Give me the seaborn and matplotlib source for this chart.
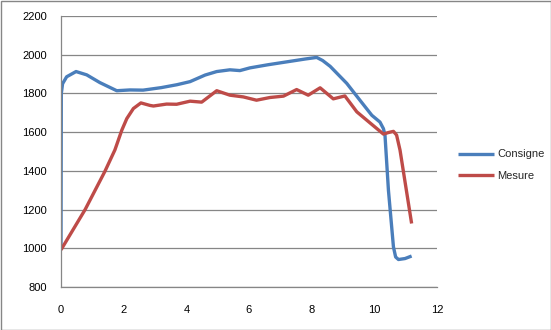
import matplotlib
matplotlib.use("Agg")
import matplotlib.pyplot as plt
import seaborn as sns
from matplotlib.patches import Rectangle

consigne_x = [0, 0.01, 0.05, 0.18, 0.48, 0.82, 1.24, 1.78, 2.2, 2.62, 3.2, 3.7, 4.12, 4.6, 4.97, 5.39, 5.71, 6.03, 6.6, 7.2, 7.8, 8.16, 8.35, 8.59, 9.12, 9.54, 9.92, 10.18, 10.29, 10.34, 10.45, 10.61, 10.68, 10.77, 10.98, 11.19]
consigne_y = [1000, 1800, 1850, 1886, 1913, 1896, 1856, 1814, 1818, 1817, 1830, 1845, 1861, 1895, 1913, 1922, 1918, 1932, 1948, 1963, 1978, 1986, 1970, 1940, 1852, 1765, 1687, 1652, 1618, 1584, 1300, 1007, 955, 942, 947, 960]

mesure_x = [0, 0.77, 1.4, 1.72, 1.94, 2.10, 2.31, 2.55, 2.84, 2.95, 3.37, 3.69, 4.12, 4.49, 4.97, 5.39, 5.82, 6.24, 6.67, 7.10, 7.52, 7.89, 8.27, 8.69, 9.06, 9.44, 9.86, 10.29, 10.45, 10.61, 10.71, 10.82, 11.19]
mesure_y = [992, 1200, 1397, 1508, 1610, 1670, 1722, 1751, 1738, 1735, 1745, 1744, 1760, 1755, 1814, 1791, 1782, 1765, 1779, 1786, 1820, 1791, 1829, 1772, 1787, 1705, 1648, 1590, 1598, 1604, 1585, 1507, 1128]

series_names = ["Consigne", "Mesure"]
colors = ["#4A7EBB", "#BE4B48"]

x_ticks = [0, 2, 4, 6, 8, 10, 12]
y_ticks = [800, 1000, 1200, 1400, 1600, 1800, 2000, 2200]

sns.set_style("white")
plt.rcParams["font.family"] = ["Liberation Sans", "DejaVu Sans"]

fig = plt.figure(figsize=(5.51, 3.30), dpi=100)
ax = fig.add_axes([61/551, 1-287/330, (437-61)/551, (287-16)/330])

for xs, ys, c, n in [(consigne_x, consigne_y, colors[0], series_names[0]),
                     (mesure_x, mesure_y, colors[1], series_names[1])]:
    sns.lineplot(x=xs, y=ys, sort=False, estimator=None, color=c, linewidth=2.4,
                 ax=ax, label=n, solid_joinstyle="round", solid_capstyle="butt")

ax.set_xlim(0, 12)
ax.set_ylim(800, 2200)
ax.set_xticks(x_ticks)
ax.set_yticks(y_ticks)
ax.set_xlabel("")
ax.set_ylabel("")
ax.grid(axis="y", color="#868686", linewidth=0.9)
ax.grid(axis="x", visible=False)
ax.set_axisbelow(True)
for side in ["top", "right"]:
    ax.spines[side].set_visible(False)
for side in ["left", "bottom"]:
    ax.spines[side].set_color("#868686")
    ax.spines[side].set_linewidth(0.9)
ax.tick_params(axis="both", which="both", direction="out", length=4, width=0.9,
               color="#868686", labelsize=8, labelcolor="black")
ax.tick_params(axis="y", pad=6)
ax.tick_params(axis="x", pad=9)

leg = ax.legend(loc="center left", bbox_to_anchor=(448/551, 165/330),
                bbox_transform=fig.transFigure, frameon=False, fontsize=8,
                handlelength=3.2, handletextpad=0.3, labelspacing=1.0)

fig.patches.append(Rectangle((0.5/551, 0.5/330), 1-1/551, 1-1/330, transform=fig.transFigure,
                             fill=False, edgecolor="#868686", linewidth=1.0))

fig.savefig("out.png", dpi=100)
